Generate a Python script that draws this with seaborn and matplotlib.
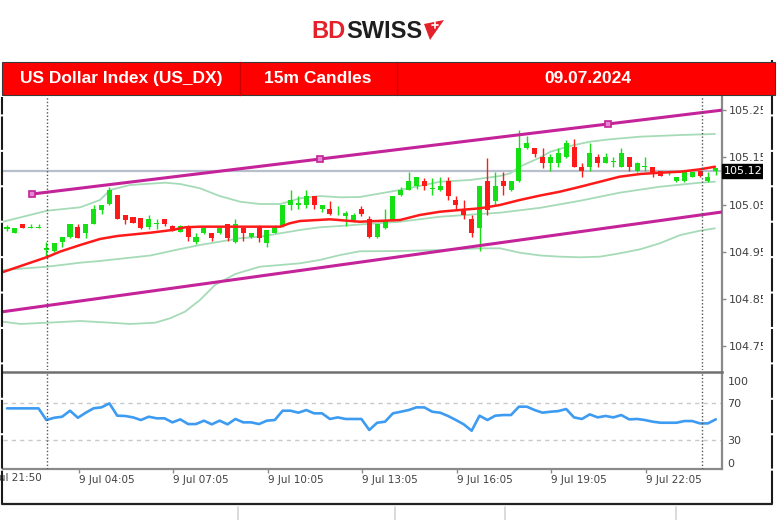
import numpy as np
import pandas as pd
import matplotlib
matplotlib.use("Agg")
import matplotlib.pyplot as plt
import seaborn as sns
from matplotlib.patches import Rectangle, Polygon
from matplotlib.lines import Line2D
from matplotlib.transforms import blended_transform_factory

sns.set_theme(style="white")
plt.rcParams['font.family'] = ['DejaVu Sans']

# 15m candles, US_DX, 09.07.2024
opens = [104.998, 104.991, 105.008, 105.001, 105.001, 104.953, 104.951, 104.970, 104.981, 105.002,
         104.989, 105.009, 105.039, 105.051, 105.070, 105.027, 105.023, 105.021, 105.003, 105.010,
         105.019, 105.005, 104.993, 105.005, 104.970, 104.991, 104.989, 104.989, 105.009, 104.970,
         105.001, 104.981, 105.005, 104.968, 104.991, 105.005, 105.049, 105.049, 105.049, 105.068,
         105.040, 105.040, 105.038, 105.025, 105.018, 105.040, 105.019, 104.981, 105.000, 105.018,
         105.070, 105.081, 105.089, 105.099, 105.084, 105.080, 105.099, 105.060, 105.040, 105.019,
         105.000, 105.099, 105.058, 105.099, 105.080, 105.099, 105.169, 105.169, 105.150, 105.137,
         105.137, 105.150, 105.171, 105.130, 105.130, 105.150, 105.139, 105.140, 105.130, 105.150,
         105.120, 105.130, 105.129, 105.120, 105.117, 105.099, 105.099, 105.109, 105.120, 105.099,
         105.120]
highs = [105.007, 105.001, 105.009, 105.008, 105.008, 104.970, 104.969, 104.982, 105.009, 105.008,
         105.010, 105.049, 105.050, 105.088, 105.071, 105.028, 105.024, 105.022, 105.028, 105.019,
         105.020, 105.006, 105.006, 105.006, 104.989, 105.005, 104.990, 105.001, 105.010, 105.019,
         105.002, 104.990, 105.006, 104.997, 105.007, 105.050, 105.081, 105.068, 105.080, 105.069,
         105.050, 105.058, 105.047, 105.037, 105.032, 105.047, 105.026, 105.010, 105.040, 105.069,
         105.088, 105.118, 105.109, 105.106, 105.106, 105.108, 105.108, 105.068, 105.060, 105.028,
         105.090, 105.148, 105.118, 105.118, 105.100, 105.208, 105.194, 105.170, 105.169, 105.158,
         105.169, 105.187, 105.188, 105.139, 105.180, 105.158, 105.160, 105.150, 105.169, 105.151,
         105.140, 105.150, 105.130, 105.121, 105.120, 105.109, 105.119, 105.119, 105.121, 105.118,
         105.128]
lows = [104.995, 104.990, 105.000, 105.001, 105.001, 104.940, 104.950, 104.961, 104.980, 104.979,
        104.979, 105.008, 105.030, 105.050, 105.019, 105.009, 105.011, 104.999, 104.998, 104.998,
        105.005, 104.994, 104.992, 104.972, 104.967, 104.988, 104.972, 104.988, 104.972, 104.969,
        104.974, 104.980, 104.970, 104.960, 104.990, 105.002, 105.039, 105.040, 105.042, 105.040,
        105.035, 105.029, 105.028, 105.005, 105.014, 105.025, 104.980, 104.980, 104.999, 105.017,
        105.069, 105.080, 105.084, 105.081, 105.070, 105.079, 105.060, 105.040, 105.019, 104.981,
        104.951, 105.028, 105.049, 105.070, 105.079, 105.098, 105.168, 105.150, 105.127, 105.120,
        105.130, 105.149, 105.129, 105.109, 105.120, 105.130, 105.138, 105.130, 105.129, 105.120,
        105.119, 105.120, 105.109, 105.110, 105.113, 105.098, 105.098, 105.108, 105.109, 105.098,
        105.113]
closes = [105.002, 105.000, 105.001, 105.002, 105.002, 104.958, 104.968, 104.981, 105.008, 104.980,
          105.008, 105.040, 105.049, 105.080, 105.020, 105.018, 105.012, 105.000, 105.019, 105.011,
          105.010, 104.995, 105.005, 104.982, 104.982, 105.000, 104.980, 105.000, 104.979, 105.009,
          104.989, 104.989, 104.979, 104.996, 105.002, 105.049, 105.060, 105.054, 105.068, 105.049,
          105.049, 105.030, 105.039, 105.032, 105.028, 105.030, 104.981, 105.009, 105.018, 105.068,
          105.081, 105.099, 105.108, 105.090, 105.085, 105.089, 105.068, 105.049, 105.028, 104.989,
          105.089, 105.039, 105.089, 105.089, 105.099, 105.169, 105.181, 105.158, 105.139, 105.150,
          105.160, 105.181, 105.130, 105.120, 105.160, 105.139, 105.150, 105.141, 105.160, 105.130,
          105.139, 105.131, 105.118, 105.111, 105.118, 105.108, 105.118, 105.118, 105.111, 105.109,
          105.127]

# RSI per candle
rsi = [64, 64, 64, 64, 64, 51.6, 54, 55.1, 61.5, 54,
       59.4, 64.1, 65.1, 69.3, 56.2, 55.9, 54.4, 51.6, 55.1, 53.4,
       53.4, 49.1, 52.3, 47.3, 47.3, 50.9, 47, 50.9, 47, 52.7,
       49.1, 49.1, 47.3, 50.9, 51.6, 61.5, 61.5, 59.4, 62.2, 58.7,
       58.7, 52.7, 54.4, 52.7, 52.7, 52.7, 41, 48.7, 49.8, 58.7,
       60.4, 62.2, 65.1, 65, 60.4, 59.4, 55.9, 51.6, 47, 40.2,
       56.2, 51.6, 56.2, 56.9, 56.9, 65.8, 65.8, 62.2, 59.4, 60.4,
       61.1, 63.3, 54.4, 52.7, 57.6, 54.4, 55.9, 54.4, 56.9, 52.3,
       52.7, 51.6, 49.8, 48.7, 48.7, 48.7, 50.5, 50.5, 48, 48,
       52.3]

# moving average (red)
ma_idx = [-0.5, 5.1, 6.7, 9.3, 11.8, 14, 18.2, 21, 22.6, 24.5, 34.7, 35.9, 37.2, 41, 44.8, 49.9,
          52.4, 55, 57.5, 60.1, 62.6, 65.1, 67.7, 70.2, 72.8, 75.3, 77.8, 80.4, 82.9, 85.5, 88, 89.9]
ma_vals = [104.9075, 104.9392, 104.9504, 104.9646, 104.9773, 104.9836, 104.9906, 104.9963, 105.0020,
           105.0033, 105.0033, 105.0105, 105.0153, 105.0189, 105.0138, 105.0174, 105.0280, 105.0350,
           105.0386, 105.0422, 105.0492, 105.0597, 105.0692, 105.0773, 105.0878, 105.0984, 105.1090,
           105.1147, 105.1174, 105.1196, 105.1246, 105.1301]

# Bollinger bands (light green)
up_idx = [-0.5, 5.1, 9.3, 11.8, 13.1, 15.6, 20.1, 22, 24.5, 27, 29.6, 32.1, 34.7, 37.2, 39.7, 42.3,
          44.8, 49.9, 55, 58.8, 62.6, 63.9, 65.1, 67.7, 69, 71.5, 74, 76.6, 80.4, 85.5, 89.9]
bb_upper = [105.0138, 105.0371, 105.0443, 105.0597, 105.0809, 105.0914, 105.0963, 105.0935, 105.0845,
            105.0682, 105.0561, 105.0513, 105.0513, 105.0633, 105.0682, 105.0654, 105.0661, 105.0809,
            105.0984, 105.1020, 105.1105, 105.1162, 105.1301, 105.1496, 105.1618, 105.1739, 105.1830,
            105.1881, 105.1936, 105.1971, 105.1993]
mid_idx = [-0.5, 5.1, 9.3, 11.8, 18.2, 22, 24.5, 27, 29.6, 32.1, 34.7, 37.2, 39.7, 42.3, 44.8, 49.9,
           55, 60.1, 62.6, 67.7, 72.8, 77.8, 82.9, 88, 89.9]
bb_mid = [104.9117, 104.9187, 104.9272, 104.9308, 104.9424, 104.9561, 104.9646, 104.9716, 104.9788,
          104.9821, 104.9893, 104.9963, 105.0020, 105.0048, 105.0079, 105.0138, 105.0244, 105.0301,
          105.0329, 105.0432, 105.0582, 105.0752, 105.0878, 105.0963, 105.0984]
lo_idx = [-0.5, 1.7, 5.1, 9.3, 13.1, 15.6, 18.8, 20.7, 22.6, 24.5, 26.4, 29, 32.1, 34.7, 37.2, 39.7,
          42.3, 44.8, 49.9, 55, 60.1, 62.6, 65.1, 67.7, 70.2, 72.8, 75.3, 77.8, 80.4, 82.9, 85.5, 88, 89.9]
bb_lower = [104.8024, 104.7976, 104.8003, 104.8039, 104.8003, 104.7976, 104.8003, 104.8096, 104.8236,
            104.8483, 104.8800, 104.9033, 104.9187, 104.9223, 104.9259, 104.9329, 104.9434, 104.9513,
            104.9519, 104.9540, 104.9576, 104.9576, 104.9483, 104.9424, 104.9399, 104.9386, 104.9399,
            104.9470, 104.9555, 104.9682, 104.9857, 104.9948, 104.9999]

# channel trend lines (magenta)
tl_up_idx = [3.2, 76.3]
tl_up_vals = [105.0724, 105.2204]
tl_lo_idx = [-0.5, 90.8]
tl_lo_vals = [104.8236, 105.0344]

last_price = 105.12
price_ticks = [104.75, 104.85, 104.95, 105.05, 105.15, 105.25]
time_ticks = [9.1, 21.1, 33.1, 45.1, 57.1, 69.1, 81.1]
time_labels = ["9 Jul 04:05", "9 Jul 07:05", "9 Jul 10:05", "9 Jul 13:05",
               "9 Jul 16:05", "9 Jul 19:05", "9 Jul 22:05"]
first_label = "8 Jul 21:50"
first_label_pos = -2.7
vlines_idx = [5.08, 88.2]

W, H = 780, 520
def fx(px): return px / W
def fy(py): return 1 - py / H

fig = plt.figure(figsize=(7.8, 5.2), dpi=100)
fig.patch.set_facecolor('white')

GREEN = '#14e014'
RED = '#ff1a1a'
BB = '#a6dbb8'
MAG = '#c4239a'
TXT = '#404040'

ax = fig.add_axes([fx(3), fy(370), fx(722) - fx(3), fy(97) - fy(370)])
ax_r = fig.add_axes([fx(3), fy(468.5), fx(722) - fx(3), fy(372) - fy(468.5)], sharex=ax)

idx = np.arange(len(opens))
o = np.array(opens); c = np.array(closes)
cols = np.where(c >= o, GREEN, RED)

# bid line
ax.axhline(last_price, color='#b7bfcd', lw=1.6, zorder=1)

# bands and MA
sns.lineplot(x=up_idx, y=bb_upper, ax=ax, color=BB, lw=1.3, zorder=2)
sns.lineplot(x=mid_idx, y=bb_mid, ax=ax, color=BB, lw=1.3, zorder=2)
sns.lineplot(x=lo_idx, y=bb_lower, ax=ax, color=BB, lw=1.3, zorder=2)

# candles
ax.vlines(idx, lows, highs, colors=cols, lw=1.0, zorder=3)
body = np.maximum(np.abs(c - o), 0.0015)
ax.bar(idx, body, bottom=np.minimum(o, c), width=0.64, color=cols, lw=0, zorder=4)

sns.lineplot(x=ma_idx, y=ma_vals, ax=ax, color=RED, lw=1.8, zorder=5)

# trend channel
xr = 90.8
slope = (tl_up_vals[1] - tl_up_vals[0]) / (tl_up_idx[1] - tl_up_idx[0])
ax.plot([tl_up_idx[0], xr], [tl_up_vals[0], tl_up_vals[0] + slope * (xr - tl_up_idx[0])],
        color=MAG, lw=2.2, zorder=6, solid_capstyle='butt')
mid_x = (tl_up_idx[0] + tl_up_idx[1]) / 2
mid_y = (tl_up_vals[0] + tl_up_vals[1]) / 2
ax.plot([tl_up_idx[0], mid_x, tl_up_idx[1]], [tl_up_vals[0], mid_y, tl_up_vals[1]], ls='none',
        marker='s', ms=5, mfc='#e487cf', mec=MAG, mew=1.2, zorder=7)
ax.plot(tl_lo_idx, tl_lo_vals, color=MAG, lw=2.2, zorder=6)

ax.set_xlim(-0.51, 90.79)
ax.set_ylim(104.7003, 105.2775)
for s in ['left', 'top', 'bottom']:
    ax.spines[s].set_visible(False)
ax.spines['right'].set_color('#8a8a8a')
ax.spines['right'].set_linewidth(1.6)
ax.yaxis.tick_right()
ax.set_yticks(price_ticks)
ax.set_yticklabels([f"{v:.2f}" for v in price_ticks])
ax.tick_params(axis='y', right=True, length=3, width=1, color='#8a8a8a', pad=2,
               labelsize=8, labelcolor=TXT)
ax.tick_params(axis='x', bottom=False, labelbottom=False)
ax.set_xlabel(''); ax.set_ylabel('')

tr = blended_transform_factory(ax.transAxes, ax.transData)
ax.text(1.003, last_price, f"{last_price:.2f}", transform=tr, color='white', fontsize=8,
        va='center', ha='left', clip_on=False, zorder=10,
        bbox=dict(boxstyle='square,pad=0.18', fc='black', ec='black'))

# RSI panel
sns.lineplot(x=idx, y=rsi, ax=ax_r, color='#3d9bf2', lw=1.9, zorder=3)
for lvl in [70, 30]:
    ax_r.axhline(lvl, color='#c9c9c9', lw=1, ls=(0, (3, 3)), zorder=1)
ax_r.set_ylim(0, 102.7)
ax_r.spines['left'].set_visible(False)
ax_r.spines['top'].set_color('#707070')
ax_r.spines['top'].set_linewidth(1.8)
for s in ['right', 'bottom']:
    ax_r.spines[s].set_color('#8a8a8a')
    ax_r.spines[s].set_linewidth(1.6)
ax_r.yaxis.tick_right()
ax_r.set_yticks([5.5, 30, 70, 93.5])
ax_r.set_yticklabels(['0', '30', '70', '100'])
ax_r.tick_params(axis='y', right=True, length=0, pad=4, labelsize=8, labelcolor=TXT)
ax_r.set_xticks(time_ticks)
ax_r.set_xticklabels(time_labels, ha='left')
ax_r.tick_params(axis='x', bottom=True, length=3, width=1, color='#8a8a8a', pad=2,
                 labelsize=7.5, labelcolor=TXT)
ax_r.set_xlabel(''); ax_r.set_ylabel('')
trx = blended_transform_factory(ax_r.transData, ax_r.transAxes)
ax_r.text(first_label_pos, -0.05, first_label, transform=trx, ha='left', va='top',
          fontsize=7.5, color=TXT, clip_on=False)

# dotted vertical separators
for a in (ax, ax_r):
    for v in vlines_idx:
        a.axvline(v, color='#555555', lw=1, ls=(0, (1, 1.5)), zorder=8)

# cover label overflow on the right, then frame lines
fig.add_artist(Rectangle((fx(763), fy(470)), fx(780) - fx(763), fy(96) - fy(470),
                         transform=fig.transFigure, fc='white', ec='none', zorder=20))
fig.add_artist(Line2D([fx(771.5), fx(771.5)], [fy(504), fy(60)], transform=fig.transFigure,
                      color='#1a1a1a', lw=1.5, dashes=(16, 1), zorder=21))
fig.add_artist(Line2D([fx(2), fx(2)], [fy(504), fy(97)], transform=fig.transFigure,
                      color='#1a1a1a', lw=1.5, dashes=(16, 1), zorder=21))
fig.add_artist(Line2D([fx(2), fx(772)], [fy(504), fy(504)], transform=fig.transFigure,
                      color='#222222', lw=1.6, zorder=21))
for gx in [238, 395, 505, 676]:
    fig.add_artist(Line2D([fx(gx), fx(gx)], [fy(507), fy(520)], transform=fig.transFigure,
                          color='#d4d4d4', lw=1.2, zorder=21))

# header bar
fig.add_artist(Rectangle((fx(2), fy(95)), fx(775) - fx(2), fy(62) - fy(95),
                         transform=fig.transFigure, fc='#ff0000', ec='#3a3a3a', lw=0.8, zorder=22))
for dx in [240, 397]:
    fig.add_artist(Line2D([fx(dx), fx(dx)], [fy(95), fy(62)], transform=fig.transFigure,
                          color='#c80000', lw=1, zorder=23))
hdr = dict(color='white', fontsize=12.5, weight='bold', family=['Liberation Sans', 'DejaVu Sans'],
           va='center', ha='center', zorder=24)
fig.text(fx(121), fy(78.5), "US Dollar Index (US_DX)", **hdr)
fig.text(fx(318), fy(78.5), "15m Candles", **hdr)
fig.text(fx(588), fy(78.5), "09.07.2024", **hdr)

# logo
logo = dict(fontsize=17, weight='bold', family=['Liberation Sans', 'DejaVu Sans'], va='center', zorder=24)
fig.text(fx(346), fy(31), "BD", ha='right', color='#e4202a', **logo)
fig.text(fx(346), fy(31), "SWISS", ha='left', color='#1e1e1e', **logo)
fig.add_artist(Polygon([(fx(424), fy(24)), (fx(444), fy(20)), (fx(430), fy(40))],
                       closed=True, transform=fig.transFigure, fc='#e4202a', ec='none', zorder=24))
fig.add_artist(Line2D([fx(432), fx(438)], [fy(25), fy(25)], transform=fig.transFigure,
                      color='white', lw=1.2, zorder=25))
fig.add_artist(Line2D([fx(435), fx(435)], [fy(22), fy(28)], transform=fig.transFigure,
                      color='white', lw=1.2, zorder=25))

fig.savefig("out.png", dpi=100, facecolor='white')
